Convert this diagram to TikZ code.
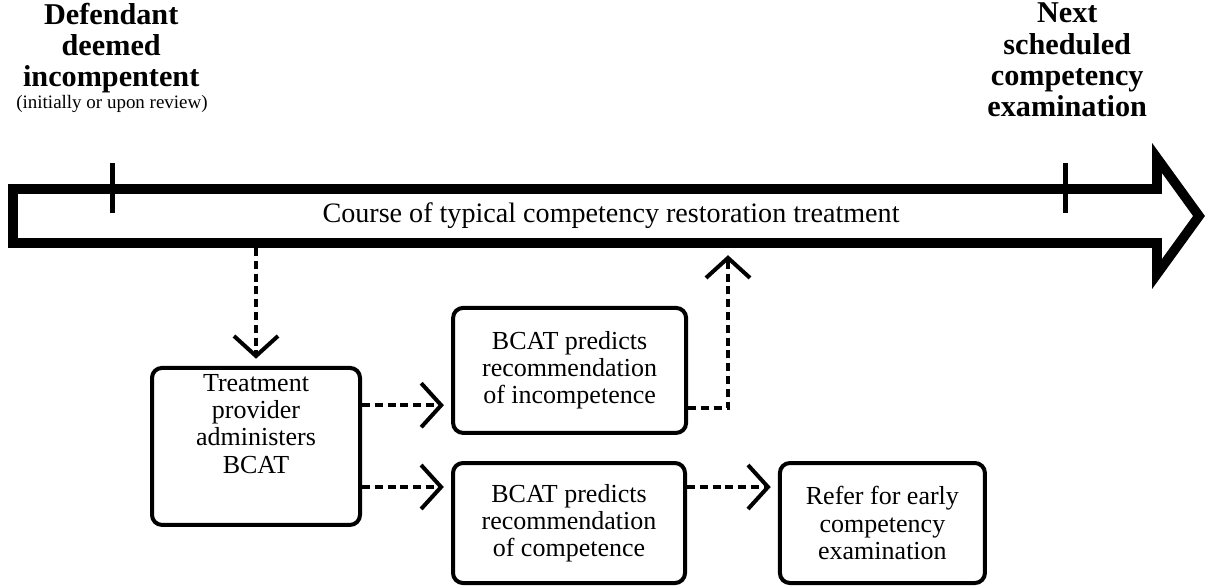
\documentclass[tikz,border=0pt]{standalone}
\usepackage{fontspec}
\setmainfont{Liberation Serif}
\usetikzlibrary{arrows.meta,calc}
\tikzset{
  box/.style={draw,line width=0.1cm,rounded corners=0.25cm,align=center,
    font=\fontsize{18.5}{19.3}\selectfont},
  dline/.style={line width=0.1cm,dash pattern=on 0.2cm off 0.12cm,
    -{Straight Barb[length=0.5cm,width=1.1cm]},shorten >=0.18cm},
  ttl/.style={align=center,font=\fontsize{21.5}{22.3}\selectfont\bfseries}
}
\begin{document}
\begin{tikzpicture}[line join=miter]
  \useasboundingbox (0,0) rectangle (30.175,-14.65);
  % big time arrow
  \draw[line width=0.24cm] (0.325,-4.725) -- (28.925,-4.725) -- (28.925,-3.95)
    -- (29.975,-5.4) -- (28.925,-6.85) -- (28.925,-6.075) -- (0.325,-6.075) -- cycle;
  \draw[line width=0.125cm] (2.8,-4.075) -- (2.8,-5.325) (26.625,-4.075) -- (26.625,-5.325);
  \node[font=\fontsize{20}{22}\selectfont] (course) at (15.275,-5.4)
    {Course of typical competency restoration treatment};
  \coordinate (c1) at (6.4,-6.2);
  \coordinate (c2) at (18.2,-6.2);
  % labels at the ends
  \node[ttl] (start) at (2.78,-1.2) {Defendant\\deemed\\incompentent};
  \node[font=\fontsize{13.5}{16}\selectfont] (startnote) at (2.8,-2.6) {(initially or upon review)};
  \node[ttl] (next) at (26.68,-1.5) {Next\\scheduled\\competency\\examination};
  % boxes
  \node[box,minimum width=5.2cm,minimum height=3.925cm] (prov) at (6.4,-11.16)
    {Treatment\\provider\\administers\\BCAT\\[0.45cm]\mbox{}};
  \node[box,minimum width=5.825cm,minimum height=3.125cm] (incomp) at (14.24,-9.26)
    {BCAT predicts\\recommendation\\of incompetence};
  \node[box,minimum width=5.8cm,minimum height=3cm] (comp) at (14.225,-13.075)
    {BCAT predicts\\recommendation\\of competence};
  \node[box,minimum width=5.125cm,minimum height=3cm] (refer) at (22.06,-13.075)
    {Refer for early\\competency\\examination};
  % connectors
  \draw[dline] (c1) -- (prov.north);
  \draw[dline] ([yshift=1.03cm]prov.east) -- ([yshift=1.03cm]prov.east -| incomp.west);
  \draw[dline] ([yshift=-1.015cm]prov.east) -- ([yshift=-1.015cm]prov.east -| comp.west);
  \draw[dline] ([yshift=0.9cm]comp.east) -- ([yshift=0.9cm]comp.east -| refer.west);
  \draw[dline] ([yshift=-0.94cm]incomp.east) -| (c2);
\end{tikzpicture}
\end{document}
